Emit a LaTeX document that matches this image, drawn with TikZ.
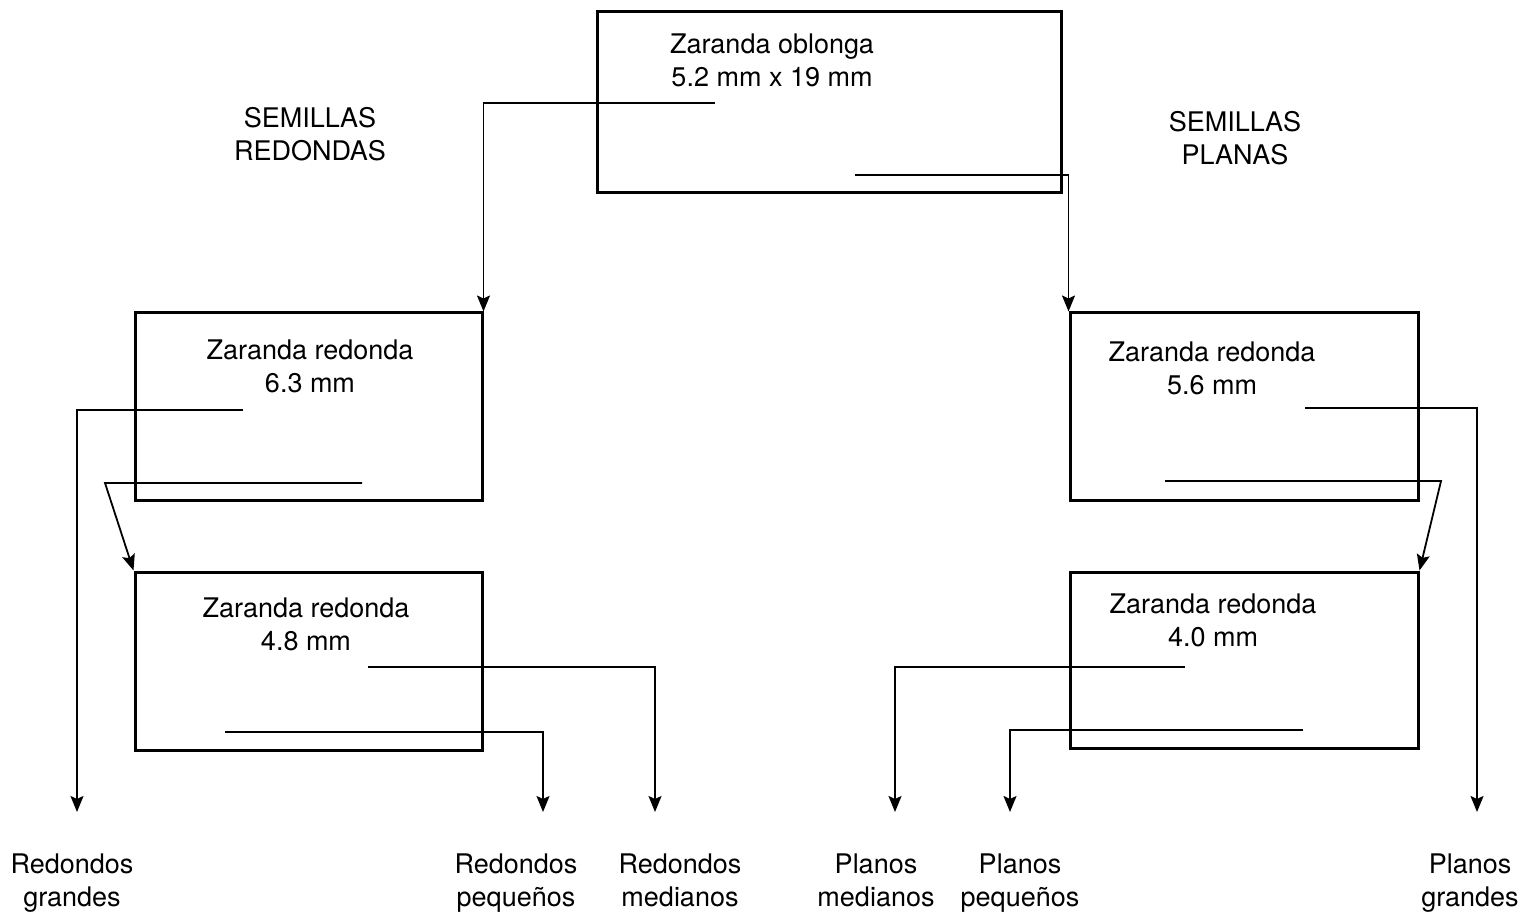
\documentclass[tikz,border=0pt]{standalone}
\usepackage{fontspec}
\setmainfont{TeX Gyre Heros}
\usetikzlibrary{arrows.meta}
\begin{document}
\begin{tikzpicture}[x=0.5pt,y=-0.5pt,
  screen/.style={draw, line width=1.5pt, inner sep=0pt, minimum width=#1},
  caption/.style={align=center, inner sep=0pt, font=\fontsize{13.5}{16.5}\selectfont},
  flow/.style={line width=0.9pt, -{Stealth[length=8pt,width=6.5pt,inset=1.5pt]}}]
\useasboundingbox (0,0) rectangle (1534,919);

% screens
\node[screen=232pt, minimum height=90.5pt] (top) at (829,102.5) {};
\node[caption] (toptxt) at (772,60) {Zaranda oblonga\\5.2 mm x 19 mm};

\node[screen=173.5pt, minimum height=93.5pt] (l1) at (308.5,406.5) {};
\node[caption] (l1txt) at (310,366) {Zaranda redonda\\6.3 mm};

\node[screen=173.5pt, minimum height=89pt] (l2) at (308.5,661) {};
\node[caption] (l2txt) at (306,624) {Zaranda redonda\\4.8 mm};

\node[screen=174pt, minimum height=93.5pt] (r1) at (1244,406.5) {};
\node[caption] (r1txt) at (1212,368) {Zaranda redonda\\5.6 mm};

\node[screen=174pt, minimum height=88pt] (r2) at (1244,660) {};
\node[caption] (r2txt) at (1213,620) {Zaranda redonda\\4.0 mm};

% group headings
\node[caption] (sr) at (310,134) {SEMILLAS\\REDONDAS};
\node[caption] (sp) at (1235,138) {SEMILLAS\\PLANAS};

% output labels (struts keep both lines on common baselines)
\node[caption] (rg) at (72,883) {Redondos\strut\\grandes\strut};
\node[caption] (rp) at (516,883) {Redondos\strut\\pequeños\strut};
\node[caption] (rm) at (680,883) {Redondos\strut\\medianos\strut};
\node[caption] (pm) at (876,883) {Planos\strut\\medianos\strut};
\node[caption] (pp) at (1020,883) {Planos\strut\\pequeños\strut};
\node[caption] (pg) at (1470,883) {Planos\strut\\grandes\strut};

% outlets inside the screens
\coordinate (topA) at (715,103);
\coordinate (topB) at (855,175);
\coordinate (l1A) at (243,410);
\coordinate (l1B) at (362,483);
\coordinate (l1Bk) at (105,483);
\coordinate (l2A) at (368,667);
\coordinate (l2B) at (225,732);
\coordinate (r1A) at (1305,408);
\coordinate (r1B) at (1165,481);
\coordinate (r1Bk) at (1441,481);
\coordinate (r2A) at (1185,667);
\coordinate (r2B) at (1303,730);

% arrow ends above the output labels
\coordinate (rgE) at (77,812);
\coordinate (rpE) at (543,812);
\coordinate (rmE) at (655,812);
\coordinate (pmE) at (895,812);
\coordinate (ppE) at (1010,812);
\coordinate (pgE) at (1477,812);

% flows
\draw[flow] (topA) -| (l1.north east);
\draw[flow] (topB) -| (r1.north west);

\draw[flow] (l1A) -| (rgE);
\draw[flow] (l1B) -- (l1Bk) -- (l2.north west);
\draw[flow] (l2A) -| (rmE);
\draw[flow] (l2B) -| (rpE);

\draw[flow] (r1A) -| (pgE);
\draw[flow] (r1B) -- (r1Bk) -- (r2.north east);
\draw[flow] (r2A) -| (pmE);
\draw[flow] (r2B) -| (ppE);
\end{tikzpicture}
\end{document}
